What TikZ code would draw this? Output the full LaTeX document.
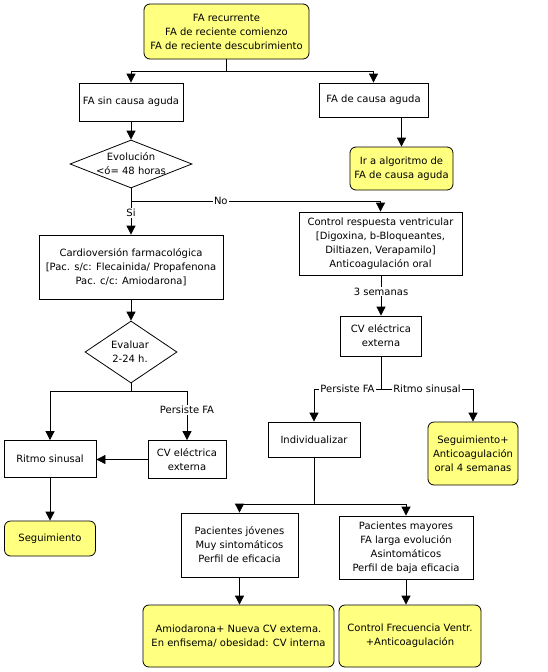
\documentclass[tikz,border=0pt]{standalone}
\usepackage{fontspec}
\setmainfont{DejaVu Sans}
\usetikzlibrary{arrows.meta,shapes.geometric,calc}
\definecolor{boxyellow}{RGB}{255,255,128}
\begin{document}
\begin{tikzpicture}[x=1pt,y=-1pt,
  every node/.style={font=\fontsize{10}{14}\selectfont},
  box/.style={draw,line width=0.8pt,align=center,inner sep=0pt,fill=white},
  ybox/.style={box,fill=boxyellow,rounded corners=6pt},
  dia/.style={draw,line width=0.8pt,diamond,inner sep=0pt,fill=white},
  lbl/.style={fill=white,inner sep=1pt},
  conn/.style={line width=0.8pt},
  arr/.style={conn,-{Triangle[width=9pt,length=9pt]}}]
\useasboundingbox (0,0) rectangle (547,672);
\fill[white] (0,0) rectangle (547,672);
% nodes
\node[ybox,minimum width=165pt,minimum height=55pt] (top) at (226.5,31.5) {FA recurrente\\FA de reciente comienzo\\FA de reciente descubrimiento};
\node[box,minimum width=104pt,minimum height=38pt] (sin) at (131,102) {FA sin causa aguda};
\node[box,minimum width=109pt,minimum height=34pt] (dca) at (373.5,100) {FA de causa aguda};
\node[dia,minimum width=122pt,minimum height=48pt] (d1) at (131,164) {};
\node[align=center,inner sep=0pt] (d1t) at (131,163.5) {Evolución\\<ó= 48 horas};
\node[ybox,minimum width=103pt,minimum height=43pt] (alg) at (401.5,168.5) {Ir a algoritmo de\\FA de causa aguda};
\node[box,minimum width=163pt,minimum height=63pt] (ctrl) at (380.5,243.5) {Control respuesta ventricular\\{}[Digoxina, b-Bloqueantes,\\Diltiazen, Verapamilo]\\Anticoagulación oral};
\node[box,minimum width=184pt,minimum height=64pt] (card) at (131,267) {Cardioversión farmacológica\\{}[Pac. s/c: Flecainida/ Propafenona\\Pac. c/c: Amiodarona]};
\node[dia,minimum width=92pt,minimum height=62pt] (d2) at (131,352) {};
\node[align=center,inner sep=0pt] (d2t) at (130,352) {Evaluar\\2-24 h.};
\node[box,minimum width=81pt,minimum height=40pt] (cvr) at (381,336) {CV eléctrica\\externa};
\node[box,minimum width=92pt,minimum height=37pt] (ritmo) at (50,459) {Ritmo sinusal};
\node[box,minimum width=78pt,minimum height=38pt] (cvl) at (187,459.5) {CV eléctrica\\externa};
\node[ybox,minimum width=91pt,minimum height=35pt] (seg) at (50,538.5) {Seguimiento};
\node[box,minimum width=92pt,minimum height=35pt] (ind) at (314,439.5) {Individualizar};
\node[ybox,minimum width=90pt,minimum height=63pt] (segp) at (473,453.5) {Seguimiento+\\Anticoagulación\\oral 4 semanas};
\node[box,minimum width=117pt,minimum height=64pt] (jov) at (239.5,545) {Pacientes jóvenes\\Muy sintomáticos\\Perfil de eficacia};
\node[box,minimum width=134pt,minimum height=63pt] (may) at (406,547.5) {Pacientes mayores\\FA larga evolución\\Asintomáticos\\Perfil de baja eficacia};
\node[ybox,minimum width=191pt,minimum height=62pt] (ami) at (238.5,636) {Amiodarona+ Nueva CV externa.\\En enfisema/ obesidad: CV interna};
\node[ybox,minimum width=142pt,minimum height=62pt] (cf) at (410,636) {Control Frecuencia Ventr.\\+Anticoagulación};
% junction coordinates
\coordinate (j1) at (226.5,71);
\coordinate (j2) at (131,201);
\coordinate (j3) at (131,391);
\coordinate (j4) at (381,389);
\coordinate (j5) at (314,504);
% connectors
\draw[conn] (top.south) -- (j1);
\draw[arr] (j1) -| (sin.north);
\draw[arr] (j1) -| (dca.north);
\draw[arr] (sin.south) -- (d1.north);
\draw[arr] (alg.north |- dca.south) -- (alg.north);
\draw[conn] (d1.south) -- (j2);
\draw[arr] (j2) -- node[lbl,pos=0.35] (si) {Si} (card.north);
\draw[arr] (j2) -| (ctrl.north) node[lbl,pos=0.18] (no) {No};
\draw[arr] (ctrl.south -| cvr.north) -- node[lbl,pos=0.4] (sem) {3 semanas} (cvr.north);
\draw[arr] (card.south) -- (d2.north);
\draw[conn] (d2.south) -- (j3);
\draw[arr] (j3) -| (ritmo.north);
\draw[arr] (j3) -| (cvl.north) node[lbl,pos=0.69] (pfl) {Persiste FA};
\draw[arr] (cvl.west) -- (cvl.west -| ritmo.east);
\draw[arr] (ritmo.south) -- (seg.north);
\draw[conn] (cvr.south) -- (j4);
\draw[arr] (j4) -| (ind.north) node[lbl,pos=0.25] (pfr) {Persiste FA};
\draw[arr] (j4) -| (segp.north) node[lbl,pos=0.25] (rsr) {Ritmo sinusal};
\draw[conn] (ind.south) -- (j5);
\draw[arr] (j5) -| (jov.north);
\draw[arr] (j5) -| (may.north);
\draw[arr] (jov.south) -- (jov.south |- ami.north);
\draw[arr] (may.south) -- (may.south |- cf.north);
\end{tikzpicture}
\end{document}
